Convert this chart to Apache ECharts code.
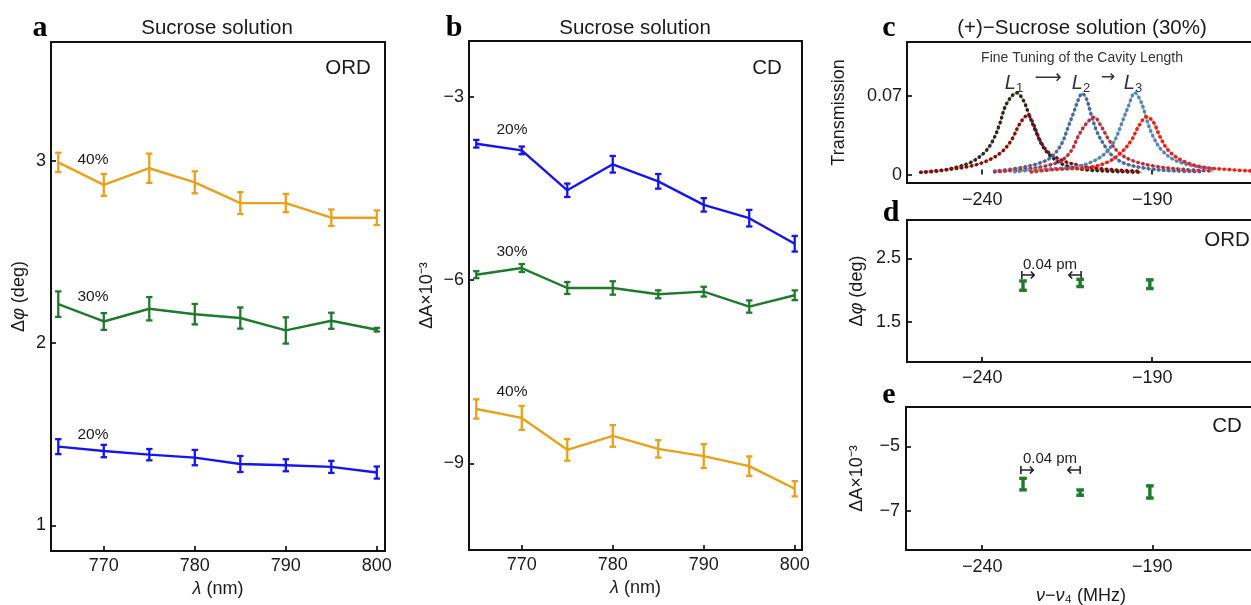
<!DOCTYPE html>
<html>
<head>
<meta charset="utf-8">
<script src="https://cdn.jsdelivr.net/npm/echarts@6/dist/echarts.min.js"></script>
<style>
  html, body { margin: 0; padding: 0; background: #fff; }
  #chart { width: 1251px; height: 605px; }
</style>
</head>
<body>
<div id="chart"></div>
<script>
// wavelength (nm), panels a and b
var lambdaNm = [765, 770, 775, 780, 785, 790, 795, 800];

// panel a - ORD, delta phi (deg)
var ord40 = [2.99, 2.867, 2.958, 2.881, 2.767, 2.767, 2.687, 2.687];
var ord40Err = [0.053, 0.06, 0.08, 0.06, 0.06, 0.05, 0.045, 0.04];
var ord30 = [2.213, 2.118, 2.188, 2.158, 2.137, 2.069, 2.122, 2.073];
var ord30Err = [0.07, 0.046, 0.064, 0.056, 0.058, 0.072, 0.044, 0.01];
var ord20 = [1.432, 1.408, 1.388, 1.372, 1.337, 1.33, 1.321, 1.29];
var ord20Err = [0.041, 0.034, 0.031, 0.042, 0.044, 0.033, 0.033, 0.033];

// panel b - CD, delta A x 10^-3
var cd20 = [-3.763, -3.872, -4.526, -4.10, -4.379, -4.765, -4.983, -5.402];
var cd20Err = [0.063, 0.063, 0.11, 0.136, 0.12, 0.11, 0.136, 0.128];
var cd30 = [-5.909, -5.80, -6.127, -6.127, -6.23, -6.187, -6.431, -6.246];
var cd30Err = [0.057, 0.065, 0.098, 0.11, 0.065, 0.08, 0.1, 0.08];
var cd40 = [-8.109, -8.256, -8.779, -8.551, -8.763, -8.882, -9.046, -9.417];
var cd40Err = [0.158, 0.196, 0.177, 0.177, 0.142, 0.196, 0.16, 0.125];

// panel c - transmission peaks for L1, L2, L3 (two polarisations each)
var l1aX = [-258, -253, -248, -243.1, -239.2, -236.8, -234.8, -233.3, -231.5, -229.9, -227.9, -226, -224, -222.1, -219.6, -215.7, -210, -203, -196, -193];
var l1aT = [0.002, 0.0032, 0.0062, 0.0112, 0.020, 0.0305, 0.0454, 0.060, 0.069, 0.0727, 0.066, 0.0513, 0.0365, 0.0246, 0.0157, 0.0083, 0.0045, 0.003, 0.0022, 0.002];
var l1bX = [-258, -250, -243.1, -238.2, -234.3, -231.4, -228.9, -226.6, -225, -223, -220.6, -216.6, -212, -206, -200, -194];
var l1bT = [0.002, 0.0045, 0.0077, 0.0127, 0.020, 0.0305, 0.0454, 0.0528, 0.0454, 0.0305, 0.020, 0.0127, 0.0085, 0.0055, 0.004, 0.003];
var l2aX = [-236.3, -230.4, -223.5, -219.6, -216.6, -214.7, -213, -211.8, -210.6, -209.3, -208.2, -206.4, -204.4, -201.9, -198, -191.2, -183.3, -176];
var l2aT = [0.0032, 0.0053, 0.0098, 0.0157, 0.0276, 0.0424, 0.056, 0.066, 0.0721, 0.067, 0.0557, 0.039, 0.0276, 0.0172, 0.0098, 0.0053, 0.0032, 0.0025];
var l2bX = [-236.3, -228.4, -221.6, -216.6, -213.7, -211.6, -209.2, -207.1, -204.9, -203, -200, -196.1, -189.2, -180.4, -172];
var l2bT = [0.0023, 0.0045, 0.0074, 0.0127, 0.0216, 0.035, 0.046, 0.051, 0.0424, 0.032, 0.020, 0.0127, 0.0074, 0.0045, 0.003];
var l3aX = [-230.4, -223.5, -212.7, -207.8, -203.9, -201, -199, -197.1, -195.1, -193.1, -191.6, -189.7, -187.2, -183.3, -177.4, -171.6];
var l3aT = [0.0025, 0.0045, 0.0068, 0.0112, 0.0187, 0.0305, 0.0454, 0.060, 0.0727, 0.0632, 0.0484, 0.0335, 0.0216, 0.0127, 0.0074, 0.005];
var l3bX = [-225.5, -218.6, -208.8, -203, -199, -196.1, -194.1, -191.6, -189.7, -187.7, -185.3, -181.4, -175.5, -167.6, -161];
var l3bT = [0.0023, 0.0045, 0.0062, 0.0112, 0.020, 0.0305, 0.0424, 0.0513, 0.0468, 0.0335, 0.0216, 0.0127, 0.0068, 0.0045, 0.0032];

// panels d and e - detuning v - v4 (MHz)
var detuneMHz = [-228, -211.2, -190.7];
var ordCavity = [2.072, 2.114, 2.094];
var ordCavityErr = [0.073, 0.057, 0.068];
var cdCavity = [-6.175, -6.44, -6.42];
var cdCavityErr = [0.18, 0.083, 0.19];

// tick labels
var lambdaTicks = [770, 780, 790, 800];
var ordTicks = [1, 2, 3];
var cdTicks = [-9, -6, -3];
var transTicks = [0, 0.07];
var detuneTicks = [-240, -190];
var ordCavTicks = [1.5, 2.5];
var cdCavTicks = [-7, -5];

var FONT = 'Liberation Sans, Arial, sans-serif';
var INK = '#1a1a1a';
var ORANGE = '#E9A11A', GREEN = '#1F7A2E', BLUE = '#1515EE';

var chart = echarts.init(document.getElementById('chart'));

function fmt(v) { return String(v).replace('-', '\u2212'); }
function pairs(xs, ys) { return xs.map(function (x, i) { return [x, ys[i]]; }); }
function triples(xs, ys, es) { return xs.map(function (x, i) { return [x, ys[i], es[i]]; }); }

var richName = {
  n: { fontFamily: FONT, fontSize: 18, color: INK },
  i: { fontFamily: FONT, fontSize: 18, color: INK, fontStyle: 'italic' }
};

function axis(grid, min, max, ticks, margin, name, gap) {
  return {
    type: 'value', gridIndex: grid, min: min, max: max,
    axisLine: { show: false },
    axisTick: { show: true, inside: true, length: 5, customValues: ticks, lineStyle: { color: '#000', width: 1.6 } },
    axisLabel: { customValues: ticks, margin: margin, color: INK, fontSize: 18, fontFamily: FONT, formatter: fmt },
    splitLine: { show: false },
    name: name || '', nameLocation: 'middle', nameGap: gap || 0,
    nameTextStyle: { fontFamily: FONT, fontSize: 18, color: INK, rich: richName }
  };
}

function lineSeries(g, xs, ys, color) {
  return {
    type: 'line', xAxisIndex: g, yAxisIndex: g, data: pairs(xs, ys),
    symbol: 'none', lineStyle: { color: color, width: 2.4 }, silent: true, z: 2
  };
}

function errSeries(g, xs, ys, es, color, cap, w) {
  return {
    type: 'custom', xAxisIndex: g, yAxisIndex: g, data: triples(xs, ys, es), silent: true, z: 3,
    renderItem: function (params, api) {
      var x = api.value(0), y = api.value(1), e = api.value(2);
      var p1 = api.coord([x, y + e]), p2 = api.coord([x, y - e]);
      var st = { stroke: color, lineWidth: w };
      return {
        type: 'group', children: [
          { type: 'line', shape: { x1: p1[0], y1: p1[1], x2: p2[0], y2: p2[1] }, style: st },
          { type: 'line', shape: { x1: p1[0] - cap, y1: p1[1], x2: p1[0] + cap, y2: p1[1] }, style: st },
          { type: 'line', shape: { x1: p2[0] - cap, y1: p2[1], x2: p2[0] + cap, y2: p2[1] }, style: st }
        ]
      };
    }
  };
}

function fitSeries(xs, ys) {
  return {
    type: 'line', xAxisIndex: 2, yAxisIndex: 2, data: pairs(xs, ys), symbol: 'none',
    smooth: 0.35, lineStyle: { color: '#F5A75A', width: 1.8 }, silent: true, z: 2
  };
}
function dotSeries(xs, ys, color) {
  return {
    type: 'line', xAxisIndex: 2, yAxisIndex: 2, data: pairs(xs, ys), symbol: 'none',
    smooth: 0.35, lineStyle: { color: color, width: 3.6, type: [0.1, 5], cap: 'round' }, silent: true, z: 3
  };
}

function txt(x, y, s, size, extra) {
  var style = { text: s, x: 0, y: 0, fontSize: size, fontFamily: FONT, fill: INK, align: 'center', verticalAlign: 'middle' };
  for (var k in extra) style[k] = extra[k];
  return { type: 'text', x: x, y: y, style: style, silent: true };
}
function letter(x, y, s) {
  return txt(x, y, s, 30, { fontFamily: 'Liberation Serif, Times New Roman, serif', fontWeight: 'bold', fill: '#000' });
}
// italic L with a lowered index digit
function cavityLabel(x, y, sub) {
  return txt(x, y + 3, '{i|L}{s|' + sub + '}', 19, {
    fill: '#333',
    rich: {
      i: { fontStyle: 'italic', fontSize: 20, lineHeight: 24, fontFamily: FONT, fill: '#333' },
      s: { fontSize: 13, lineHeight: 12, verticalAlign: 'bottom', fontFamily: FONT, fill: '#333' }
    }
  });
}

var gridStyle = { show: true, borderColor: '#111', borderWidth: 2, backgroundColor: 'transparent', outerBoundsMode: 'none' };
function grid(l, t, w, h) {
  var g = { left: l, top: t, width: w, height: h };
  for (var k in gridStyle) g[k] = gridStyle[k];
  return g;
}

var option = {
  animation: false,
  backgroundColor: '#fff',
  grid: [
    grid(51, 42, 334, 509),
    grid(469, 41, 333, 509),
    grid(907, 42, 350, 141),
    grid(907, 220, 350, 142),
    grid(906, 407, 350, 143)
  ],
  xAxis: [
    axis(0, 764.2, 800.9, lambdaTicks, 6, '{i|\u03bb}{n| (nm)}', 29),
    axis(1, 764.2, 800.8, lambdaTicks, 6, '{i|\u03bb}{n| (nm)}', 29),
    axis(2, -262.1, -159.2, detuneTicks, 8),
    axis(3, -262.1, -159.2, detuneTicks, 7),
    axis(4, -262.4, -159.5, detuneTicks, 8, '{i|\u03bd}{n|\u2212}{i|\u03bd}{n|\u2084 (MHz)}', 37)
  ],
  yAxis: [
    axis(0, 0.86, 3.65, ordTicks, 5, '{n|\u0394}{i|\u03c6}{n| (deg)}', 23),
    axis(1, -10.42, -2.08, cdTicks, 5, '{n|\u0394A\u00d710\u207b\u00b3}', 33),
    axis(2, -0.0075, 0.1178, transTicks, 5, '{n|Transmission}', 59),
    axis(3, 0.875, 3.1, ordCavTicks, 6, '{n|\u0394}{i|\u03c6}{n| (deg)}', 41),
    axis(4, -8.23, -3.77, cdCavTicks, 6, '{n|\u0394A\u00d710\u207b\u00b3}', 40)
  ],
  series: [
    lineSeries(0, lambdaNm, ord40, ORANGE), errSeries(0, lambdaNm, ord40, ord40Err, ORANGE, 3.2, 2.3),
    lineSeries(0, lambdaNm, ord30, GREEN), errSeries(0, lambdaNm, ord30, ord30Err, GREEN, 3.2, 2.3),
    lineSeries(0, lambdaNm, ord20, BLUE), errSeries(0, lambdaNm, ord20, ord20Err, BLUE, 3.2, 2.3),
    lineSeries(1, lambdaNm, cd20, BLUE), errSeries(1, lambdaNm, cd20, cd20Err, BLUE, 3.2, 2.3),
    lineSeries(1, lambdaNm, cd30, GREEN), errSeries(1, lambdaNm, cd30, cd30Err, GREEN, 3.2, 2.3),
    lineSeries(1, lambdaNm, cd40, ORANGE), errSeries(1, lambdaNm, cd40, cd40Err, ORANGE, 3.2, 2.3),

    fitSeries(l1aX, l1aT), fitSeries(l1bX, l1bT), fitSeries(l2aX, l2aT),
    fitSeries(l2bX, l2bT), fitSeries(l3aX, l3aT), fitSeries(l3bX, l3bT),
    dotSeries(l1aX, l1aT, '#1d2b38'),
    dotSeries(l1bX, l1bT, '#7b0f1e'),
    dotSeries(l2aX, l2aT, '#2f6dbf'),
    dotSeries(l2bX, l2bT, '#ad2f50'),
    dotSeries(l3aX, l3aT, '#3f8ad6'),
    dotSeries(l3bX, l3bT, '#ec1c24'),

    errSeries(3, detuneMHz, ordCavity, ordCavityErr, GREEN, 3.8, 3.4),
    errSeries(4, detuneMHz, cdCavity, cdCavityErr, GREEN, 3.8, 3.4)
  ],
  graphic: [
    letter(40, 28, 'a'), letter(454, 28, 'b'), letter(889, 28, 'c'), letter(891, 213, 'd'), letter(889, 395, 'e'),
    txt(217, 28.5, 'Sucrose solution', 20.5),
    txt(635, 28.5, 'Sucrose solution', 20.5),
    txt(1082, 28.5, '(+)\u2212Sucrose solution (30%)', 20.5),
    txt(348, 68.5, 'ORD', 20.5),
    txt(767, 68.5, 'CD', 20.5),
    txt(1227, 240, 'ORD', 20.5),
    txt(1227, 426, 'CD', 20.5),
    txt(93, 160, '40%', 15.5), txt(93, 297, '30%', 15.5), txt(93, 435, '20%', 15.5),
    txt(512, 129.5, '20%', 15.5), txt(512, 251.5, '30%', 15.5), txt(512, 392, '40%', 15.5),
    txt(1082, 58.5, 'Fine Tuning of the Cavity Length', 14, { fill: '#333' }),
    cavityLabel(1014, 80, '1'),
    txt(1048, 78, '\u27f6', 19, { fontFamily: 'DejaVu Sans', fill: '#333' }),
    cavityLabel(1081, 80, '2'),
    txt(1108, 78, '\u2192', 17, { fontFamily: 'DejaVu Sans', fill: '#333' }),
    cavityLabel(1133, 80, '3'),
    txt(1050, 265, '0.04 pm', 15, { fill: '#222' }),
    txt(1028, 276, '\u21a6', 19, { fontFamily: 'DejaVu Sans', fill: '#222' }),
    txt(1075, 276, '\u21a4', 19, { fontFamily: 'DejaVu Sans', fill: '#222' }),
    txt(1050, 459, '0.04 pm', 15, { fill: '#222' }),
    txt(1027, 471, '\u21a6', 19, { fontFamily: 'DejaVu Sans', fill: '#222' }),
    txt(1074, 471, '\u21a4', 19, { fontFamily: 'DejaVu Sans', fill: '#222' })
  ]
};

chart.setOption(option);
</script>
</body>
</html>
